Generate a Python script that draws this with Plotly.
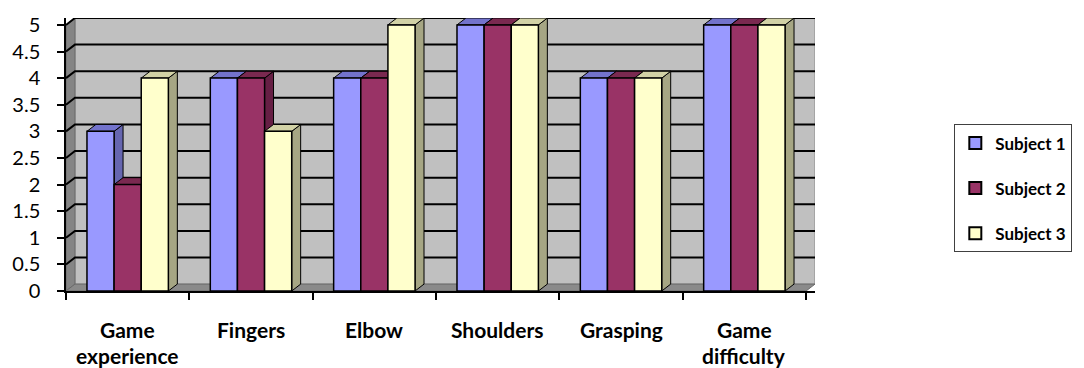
import plotly.graph_objects as go

# Survey ratings per body part / aspect, one series per subject
categories = ["Game experience", "Fingers", "Elbow", "Shoulders", "Grasping", "Game difficulty"]
subjects = ["Subject 1", "Subject 2", "Subject 3"]
subject1 = [3, 4, 4, 5, 4, 5]
subject2 = [2, 4, 4, 5, 4, 5]
subject3 = [4, 3, 5, 5, 4, 5]
y_ticks = [0, 0.5, 1, 1.5, 2, 2.5, 3, 3.5, 4, 4.5, 5]
y_tick_labels = ["0", "0.5", "1", "1.5", "2", "2.5", "3", "3.5", "4", "4.5", "5"]

series = [subject1, subject2, subject3]
# (front, top, side) colours of the extruded bars
palette = [
    ("#9999ff", "#7373cc", "#6666b0"),
    ("#993366", "#7a2950", "#661f44"),
    ("#ffffcc", "#d2d2a6", "#a6a684"),
]

FONT = "Lato"
# depth offset of the pseudo-3D extrusion, in axis units
DX = 9 / 124
DY = 7 / 54
BAR_W = 0.22
GROUP_OFF = -0.33
X_LO, X_HI = -0.5, len(categories) - 0.5
Y_MAX = max(y_ticks)

fig = go.Figure()


def face(xs, ys, fill, line="#000000", width=1):
    fig.add_trace(go.Scatter(
        x=list(xs) + [xs[0]], y=list(ys) + [ys[0]],
        mode="lines", fill="toself", fillcolor=fill,
        line=dict(color=line, width=width),
        hoverinfo="skip", showlegend=False,
    ))


# back wall, side wall and floor
face([X_LO + DX, X_HI + DX, X_HI + DX, X_LO + DX],
     [DY, DY, Y_MAX + DY, Y_MAX + DY], "#c0c0c0", line="#8a8a8a")
face([X_LO, X_LO + DX, X_LO + DX, X_LO],
     [0, DY, Y_MAX + DY, Y_MAX], "#858585", line="#6a6a6a")
face([X_LO, X_HI, X_HI + DX, X_LO + DX],
     [0, 0, DY, DY], "#8a8a8a", line="#6a6a6a")

# gridlines running across the side wall and back wall
gx, gy = [], []
for v in y_ticks[1:]:
    gx += [X_LO, X_LO + DX, X_HI + DX, None]
    gy += [v, v + DY, v + DY, None]
fig.add_trace(go.Scatter(x=gx, y=gy, mode="lines",
                         line=dict(color="#000000", width=2),
                         hoverinfo="skip", showlegend=False))

# extruded bars: side, top, then front, left to right so neighbours overlap correctly
for i in range(len(categories)):
    for j, vals in enumerate(series):
        v = vals[i]
        front_c, top_c, side_c = palette[j]
        x0 = i + GROUP_OFF + j * BAR_W
        x1 = x0 + BAR_W
        face([x1, x1 + DX, x1 + DX, x1], [0, DY, v + DY, v], side_c)
        face([x0, x1, x1 + DX, x0 + DX], [v, v, v + DY, v + DY], top_c)
        face([x0, x1, x1, x0], [0, 0, v, v], front_c, width=1.5)

# legend entries
for j, name in enumerate(subjects):
    fig.add_trace(go.Scatter(
        x=[None], y=[None], mode="markers", name=name,
        legendgroup=name,
        marker=dict(symbol="square", size=12, color=palette[j][0],
                    line=dict(color="#000000", width=2)),
    ))

# category labels, one word per line
annotations = []
for i, label in enumerate(categories):
    for k, word in enumerate(label.split(" ")):
        annotations.append(dict(
            x=i, xref="x", y=0, yref="paper", yanchor="middle",
            yshift=-38 - 26 * k, text=word, showarrow=False,
            font=dict(family=FONT, size=21, color="#000000", weight="bold"),
        ))

fig.update_layout(
    width=1084, height=368,
    margin=dict(l=65, r=266, t=14, b=77),
    paper_bgcolor="#ffffff", plot_bgcolor="#ffffff",
    hovermode=False,
    annotations=annotations,
    xaxis=dict(
        range=[X_LO, X_HI + DX],
        tickvals=[X_LO + k for k in range(len(categories) + 1)],
        showticklabels=False, ticks="outside", ticklen=7,
        tickcolor="#000000", tickwidth=1.5,
        showgrid=False, zeroline=False,
        showline=True, linecolor="#000000", linewidth=1.5,
    ),
    yaxis=dict(
        range=[0, Y_MAX + DY],
        tickvals=y_ticks, ticktext=y_tick_labels,
        ticks="outside", ticklen=7, tickcolor="#000000", tickwidth=1.5,
        ticklabelstandoff=13,
        tickfont=dict(family=FONT, size=20, color="#000000"),
        showgrid=False, zeroline=False,
        showline=True, linecolor="#000000", linewidth=1.5,
    ),
    legend=dict(
        x=1.186, xanchor="left", y=0.61, yanchor="top",
        bordercolor="#404040", borderwidth=1, bgcolor="#ffffff",
        font=dict(family=FONT, size=17, color="#000000", weight="bold"),
        tracegroupgap=20, itemwidth=30,
    ),
)

fig.write_html("out.html")
